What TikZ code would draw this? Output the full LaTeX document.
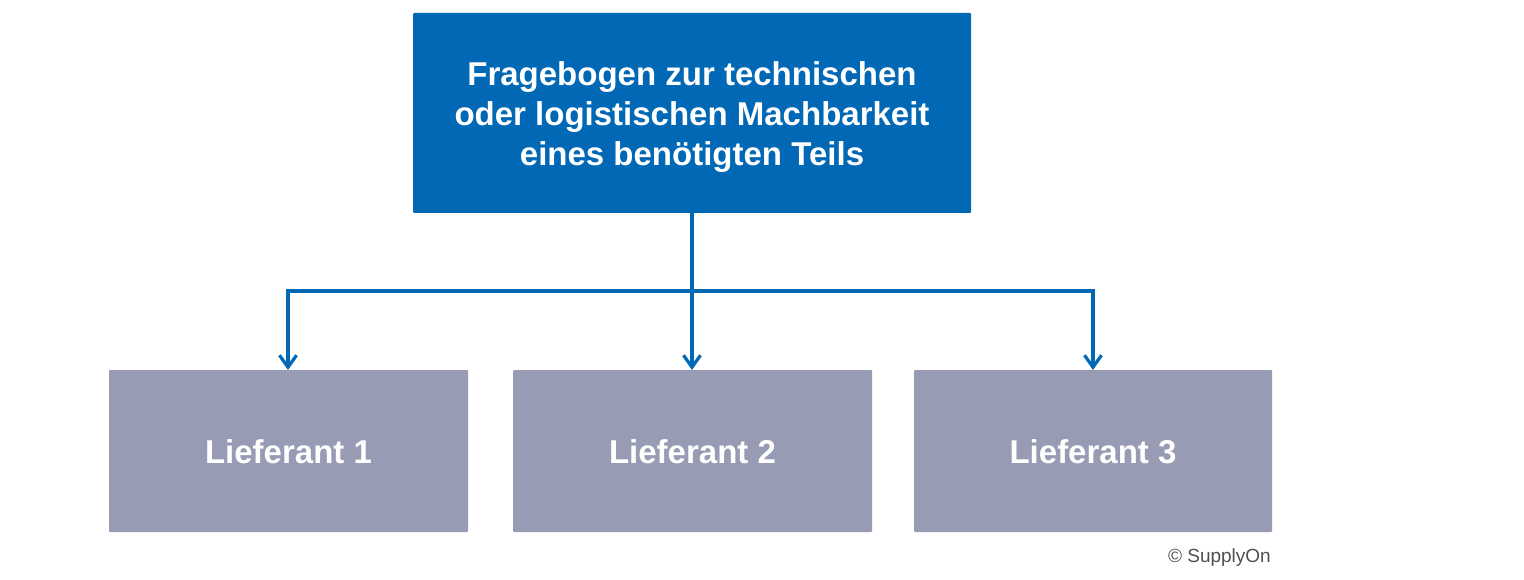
\documentclass[tikz,border=0pt]{standalone}
\usepackage{fontspec}
\setmainfont{Liberation Sans}
\usetikzlibrary{arrows.meta}
\definecolor{topblue}{HTML}{0068B4}
\definecolor{boxgray}{HTML}{979BB4}
\definecolor{txtgray}{HTML}{505050}
\begin{document}
\begin{tikzpicture}[x=1pt,y=-1pt,
  topbox/.style={text=white,font=\fontsize{33}{40}\selectfont\bfseries,align=center},
  supbox/.style={text=white,font=\fontsize{33}{36}\selectfont\bfseries},
  conn/.style={draw=topblue,line width=3.2pt},
  arr/.style={conn,-{Straight Barb[length=12pt,width=17pt,line width=3.2pt]}}]
\useasboundingbox (0,0) rectangle (1524,580);
\fill[topblue,rounded corners=1pt] (413,13) rectangle (971,213);
\node[topbox] (top) at (692,117) {Fragebogen zur technischen\\oder logistischen Machbarkeit\\eines benötigten Teils};
\coordinate (topb) at (692,213);
\fill[boxgray,rounded corners=1pt] (109,370) rectangle (468,532);
\fill[boxgray,rounded corners=1pt] (513,370) rectangle (872,532);
\fill[boxgray,rounded corners=1pt] (914,370) rectangle (1272,532);
\node[supbox] (l1) at (288.5,452) {Lieferant 1};
\node[supbox] (l2) at (692.5,452) {Lieferant 2};
\node[supbox] (l3) at (1093,452) {Lieferant 3};
\coordinate (a1) at (288,370);
\coordinate (a2) at (692,370);
\coordinate (a3) at (1093,370);
\coordinate (j) at (692,291);
\draw[arr] (topb) -- (a2);
\draw[arr] (j) -| (a1);
\draw[arr] (j) -| (a3);
\node[anchor=east,text=txtgray,font=\fontsize{19}{21}\selectfont,inner sep=0] (cr) at (1271,558) {© SupplyOn};
\end{tikzpicture}
\end{document}
